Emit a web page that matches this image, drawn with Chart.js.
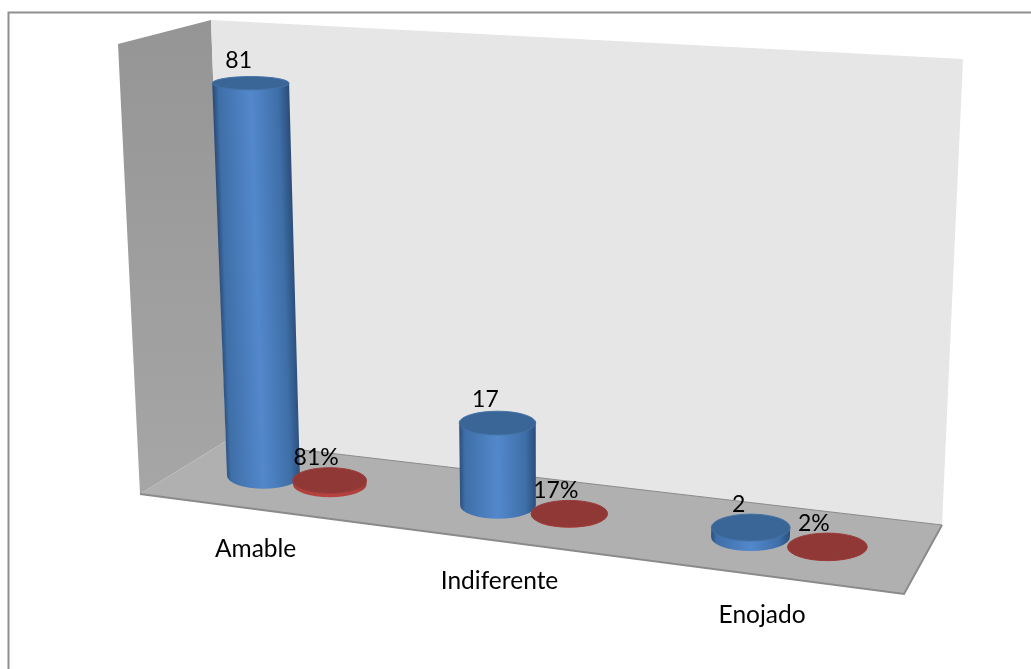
<!DOCTYPE html>
<html>
<head>
<meta charset="utf-8">
<style>
    html, body { margin: 0; padding: 0; background: #ffffff; }
    #wrap { position: relative; width: 1031px; height: 669px; }
    canvas { display: block; }
</style>
<script src="https://cdn.jsdelivr.net/npm/chart.js@4"></script>
</head>
<body>
<div id="wrap"><canvas id="grafico" width="1031" height="669"></canvas></div>
<script>
const categories = ['Amable', 'Indiferente', 'Enojado'];
const cantidad = [81, 17, 2];
const porcentaje = [0.81, 0.17, 0.02];

// flat chart area -> 3D screen, numbers fitted from the picture
const PX_PER_UNIT = 4.85;
const Y_MAX = 90;
const CAT_PERCENT = 0.58;

function toScreen(chart, x, h) {
    const area = chart.chartArea;
    const catW = (area.right - area.left) / categories.length;
    const u = (x - area.left) / catW - (0.5 - CAT_PERCENT / 4);
    const w = 1 - 0.03564 * u;
    const x0 = (216.75 * u + 263.5) / w;
    const y0 = (11.5 * u + 476) / w;
    // vertical lines lean away from x=558 going up
    return { x: x0 + (x0 - 558) * 1.11e-4 * h, y: y0 - h, x0: x0, y0: y0 };
}

function ryAt(y) {
    return 5.3 + 0.0155 * y;
}

function cylinder(ctx, chart, bar, colors) {
    const h = bar.base - bar.y;
    const bottom = toScreen(chart, bar.x, 0);
    const top = toScreen(chart, bar.x, h);
    const rBase = (bar.width / 2) * (1 + (bottom.x0 - 500) * 1.6e-4);
    const rTop = rBase * (1 + h * 1.4e-4);
    const ryB = ryAt(bottom.y);
    const ryT = ryAt(top.y);

    // body
    ctx.beginPath();
    ctx.moveTo(top.x - rTop, top.y);
    ctx.lineTo(bottom.x - rBase, bottom.y);
    ctx.ellipse(bottom.x, bottom.y, rBase, ryB, 0, Math.PI, 0, true);
    ctx.lineTo(top.x + rTop, top.y);
    ctx.closePath();

    // gradient has to lean with the cylinder, so fill under a shear
    ctx.save();
    ctx.translate(top.x, top.y);
    ctx.transform(1, 0, (bottom.x - top.x) / Math.max(h, 1), 1, 0, 0);
    const r = (rTop + rBase) / 2;
    const grad = ctx.createLinearGradient(-r, 0, r, 0);
    grad.addColorStop(0, colors.edge);
    grad.addColorStop(0.07, colors.mid);
    grad.addColorStop(0.5, colors.light);
    grad.addColorStop(0.86, colors.mid);
    grad.addColorStop(1, colors.edge);
    ctx.fillStyle = grad;
    ctx.fill();
    ctx.restore();

    // tapa
    ctx.beginPath();
    ctx.ellipse(top.x, top.y, rTop, ryT, 0, 0, Math.PI * 2);
    ctx.fillStyle = colors.top;
    ctx.fill();
    ctx.strokeStyle = colors.rim;
    ctx.lineWidth = 1;
    ctx.stroke();

    return top;
}

function poly(ctx, pts, fill) {
    ctx.beginPath();
    pts.forEach((p, i) => {
        if (i === 0) ctx.moveTo(p[0], p[1]);
        else ctx.lineTo(p[0], p[1]);
    });
    ctx.closePath();
    ctx.fillStyle = fill;
    ctx.fill();
}

const escena = {
    id: 'escena',
    beforeDatasetsDraw(chart) {
        const ctx = chart.ctx;
        ctx.save();

        // marco, solo arriba e izquierda
        ctx.strokeStyle = '#8f8f8f';
        ctx.lineWidth = 2;
        ctx.beginPath();
        ctx.moveTo(8.5, 669);
        ctx.lineTo(8.5, 12.5);
        ctx.lineTo(1031, 12.5);
        ctx.stroke();

        // pared izquierda
        const izq = ctx.createLinearGradient(0, 20, 0, 494);
        izq.addColorStop(0, '#959595');
        izq.addColorStop(1, '#a6a6a6');
        poly(ctx, [[118, 44], [211, 20], [226, 441], [140, 494]], izq);

        // pared del fondo
        poly(ctx, [[211, 20], [963, 59], [942, 525], [226, 441]], '#e6e6e6');

        // piso
        poly(ctx, [[226, 441], [942, 525], [904, 594], [140, 494]], '#b0b0b0');
        ctx.strokeStyle = '#8a8a8a';
        ctx.lineWidth = 2;
        ctx.beginPath();
        ctx.moveTo(942, 525);
        ctx.lineTo(904, 594);
        ctx.lineTo(140, 494);
        ctx.stroke();
        ctx.lineWidth = 1;
        ctx.beginPath();
        ctx.moveTo(226, 441);
        ctx.lineTo(942, 525);
        ctx.stroke();

        ctx.restore();
    },
    afterDatasetsDraw(chart) {
        const ctx = chart.ctx;
        const azul = { edge: '#2b4f7c', mid: '#3f6fa8', light: '#5288cc', top: '#3a6697', rim: '#4472a6' };
        const rojo = { edge: '#a03a37', mid: '#b0403c', light: '#b8423e', top: '#8f3836', rim: '#993c3a' };
        const blue = chart.getDatasetMeta(0).data;
        const red = chart.getDatasetMeta(1).data;

        ctx.save();
        const tops = [];
        categories.forEach((cat, i) => {
            tops.push([cylinder(ctx, chart, blue[i], azul), String(cantidad[i]), -12]);
            tops.push([cylinder(ctx, chart, red[i], rojo), Math.round(porcentaje[i] * 100) + '%', -13.5]);
        });

        ctx.font = '23px Lato';
        ctx.fillStyle = '#000000';
        ctx.textAlign = 'center';
        ctx.textBaseline = 'middle';
        tops.forEach(t => {
            ctx.fillText(t[1], t[0].x + t[2], t[0].y - 23);
        });

        // etiquetas del eje siguen el borde del piso
        ctx.font = '24.5px Lato';
        categories.forEach((cat, i) => {
            const p = toScreen(chart, blue[i].x, 0);
            ctx.fillText(cat, p.x0 + (p.x0 - 498) * 0.04 + 1.5, p.y0 + 73 + (p.x0 - 263) * 0.01);
        });
        ctx.restore();
    }
};

new Chart(document.getElementById('grafico'), {
    type: 'bar',
    data: {
        labels: categories,
        datasets: [
            { label: 'Cantidad', data: cantidad, backgroundColor: 'transparent' },
            { label: 'Porcentaje', data: porcentaje, backgroundColor: 'transparent' }
        ]
    },
    options: {
        responsive: false,
        animation: false,
        devicePixelRatio: 1,
        categoryPercentage: CAT_PERCENT,
        barPercentage: 0.76,
        layout: { padding: { top: 40, bottom: 669 - 40 - PX_PER_UNIT * Y_MAX } },
        plugins: { legend: { display: false }, tooltip: { enabled: false } },
        scales: {
            x: { display: false },
            y: { display: false, min: 0, max: Y_MAX }
        }
    },
    plugins: [escena]
});
</script>
</body>
</html>
